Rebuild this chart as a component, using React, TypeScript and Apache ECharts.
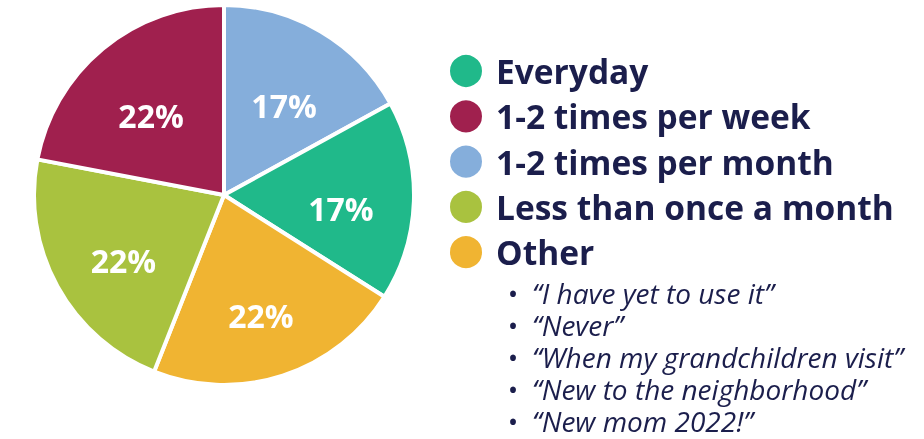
import React, { useEffect, useRef } from "react";
import * as echarts from "echarts";

const sliceNames = ["1-2 times per month", "Everyday", "Other", "Less than once a month", "1-2 times per week"];
const sliceValues = [17, 17, 22, 22, 22];
const sliceColors = ["#85AEDB", "#20B98A", "#F0B432", "#A9C23F", "#A0204E"];
const legendOrder = ["Everyday", "1-2 times per week", "1-2 times per month", "Less than once a month", "Other"];
const otherAnswers = [
  "\u201CI have yet to use it\u201D",
  "\u201CNever\u201D",
  "\u201CWhen my grandchildren visit\u201D",
  "\u201CNew to the neighborhood\u201D",
  "\u201CNew mom 2022!\u201D",
];

const NAVY = "#1B1E4C";
const FONT = "'Open Sans', 'Noto Sans', sans-serif";

export default function App() {
  const ref = useRef<HTMLDivElement>(null);
  useEffect(() => {
    if (!ref.current) return;
    const chart = echarts.init(ref.current, undefined, { renderer: "svg" });
    const data = sliceNames.map((n, i) => ({ name: n, value: sliceValues[i], itemStyle: { color: sliceColors[i] } }));
    const graphics: any[] = [];
    otherAnswers.forEach((t, i) => {
      const y = 293 + i * 32;
      graphics.push({
        type: "text",
        x: 513,
        y: y,
        style: { text: "\u2022", fontSize: 28, lineHeight: 28, fontFamily: FONT, fill: NAVY, align: "center", verticalAlign: "middle" },
      });
      graphics.push({
        type: "text",
        x: 532,
        y: y,
        style: { text: t, fontSize: 28, lineHeight: 30, fontStyle: "italic", fontFamily: FONT, fill: NAVY, align: "left", verticalAlign: "middle" },
      });
    });
    chart.setOption({
      animation: false,
      legend: {
        data: legendOrder,
        orient: "vertical",
        left: 443,
        top: 48,
        icon: "circle",
        itemWidth: 50,
        itemHeight: 34,
        itemGap: 9.3,
        textStyle: { fontSize: 33.5, lineHeight: 34, fontWeight: "bold", fontFamily: FONT, color: NAVY },
      },
      graphic: graphics,
      series: [
        {
          type: "pie",
          center: [224, 195],
          radius: [0, 190],
          startAngle: 90,
          clockwise: true,
          label: { show: false },
          labelLine: { show: false },
          itemStyle: { borderColor: "#ffffff", borderWidth: 4 },
          emphasis: { disabled: true },
          data,
        },
        {
          type: "pie",
          center: [224, 195],
          radius: [0, 226],
          startAngle: 90,
          clockwise: true,
          silent: true,
          legendHoverLink: false,
          itemStyle: { color: "transparent", borderWidth: 0 },
          label: {
            show: true,
            position: "inside",
            formatter: "{c}%",
            offset: [1, 10],
            color: "#ffffff",
            fontSize: 32,
            fontWeight: "bold",
            fontFamily: FONT,
          },
          labelLine: { show: false },
          emphasis: { disabled: true },
          data: sliceNames.map((n, i) => ({ name: n, value: sliceValues[i], itemStyle: { color: "transparent" } })),
        },
      ],
    });
    return () => chart.dispose();
  }, []);
  return <div ref={ref} style={{ position: "fixed", left: 0, top: 0, width: 924, height: 439 }} />;
}
